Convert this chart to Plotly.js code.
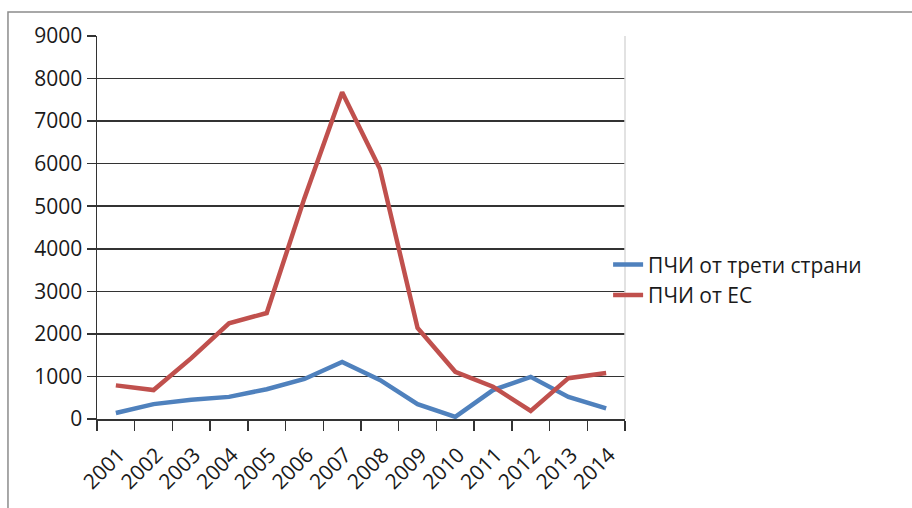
<!DOCTYPE html>
<html>
<head>
<meta charset="utf-8">
<script src="https://cdn.plot.ly/plotly-3.0.1.min.js"></script>
<style>
html,body{margin:0;padding:0;background:#fff;}
#chart{width:912px;height:508px;}
</style>
</head>
<body>
<div id="chart"></div>
<script>
const years = ["2001","2002","2003","2004","2005","2006","2007","2008","2009","2010","2011","2012","2013","2014"];
const thirdCountries = [140, 350, 450, 520, 700, 940, 1340, 920, 350, 50, 680, 990, 520, 250];
const fromEU = [790, 680, 1430, 2250, 2490, 5190, 7680, 5880, 2140, 1110, 760, 190, 960, 1080];
const seriesNames = ["ПЧИ от трети страни", "ПЧИ от ЕС"];
const yTicks = [0, 1000, 2000, 3000, 4000, 5000, 6000, 7000, 8000, 9000];

const fontFam = "Open Sans, Liberation Sans, Arial, sans-serif";
const data = [
  {x: years, y: thirdCountries, name: seriesNames[0], type: "scatter", mode: "lines",
   line: {color: "#4F81BD", width: 4.5}},
  {x: years, y: fromEU, name: seriesNames[1], type: "scatter", mode: "lines",
   line: {color: "#C0504D", width: 4.5}}
];
const layout = {
  width: 912, height: 508,
  margin: {l: 97, r: 287, t: 36, b: 89, pad: 0},
  paper_bgcolor: "#fff", plot_bgcolor: "#fff",
  font: {family: fontFam, size: 21, color: "#1a1a1a"},
  showlegend: true,
  legend: {x: 0.968, y: 0.363, xanchor: "left", yanchor: "middle",
           font: {family: fontFam, size: 21, color: "#1a1a1a"},
           itemwidth: 30, tracegroupgap: 0, bgcolor: "rgba(0,0,0,0)"},
  xaxis: {type: "category", range: [-0.5, 13.5], tickangle: -45, showgrid: false, zeroline: false,
          showline: true, linecolor: "#333", linewidth: 1.5,
          ticks: "outside", tickson: "boundaries", ticklen: 10, tickwidth: 1.5, tickcolor: "#333",
          ticklabelstandoff: 14, ticklabelshift: 3,
          tickfont: {family: fontFam, size: 21, color: "#1a1a1a"}},
  yaxis: {range: [0, 9000], tickvals: yTicks, ticktext: yTicks.map(String),
          showgrid: true, gridcolor: "#333", gridwidth: 1.5, zeroline: false,
          showline: true, linecolor: "#333", linewidth: 1.5,
          ticks: "outside", ticklen: 9, tickwidth: 1.5, tickcolor: "#333",
          tickfont: {family: fontFam, size: 21, color: "#1a1a1a"}},
  shapes: [
    {type: "line", xref: "paper", yref: "paper", x0: 1, x1: 1, y0: 0, y1: 1,
     line: {color: "#d9d9d9", width: 1.5}},
    {type: "rect", xref: "paper", yref: "paper", x0: -0.1686, x1: 3, y0: -1, y1: 1.0627,
     line: {color: "#8c8c8c", width: 1.5}, fillcolor: "rgba(0,0,0,0)"}
  ]
};
Plotly.newPlot("chart", data, layout, {displayModeBar: false, staticPlot: true});
</script>
</body>
</html>
